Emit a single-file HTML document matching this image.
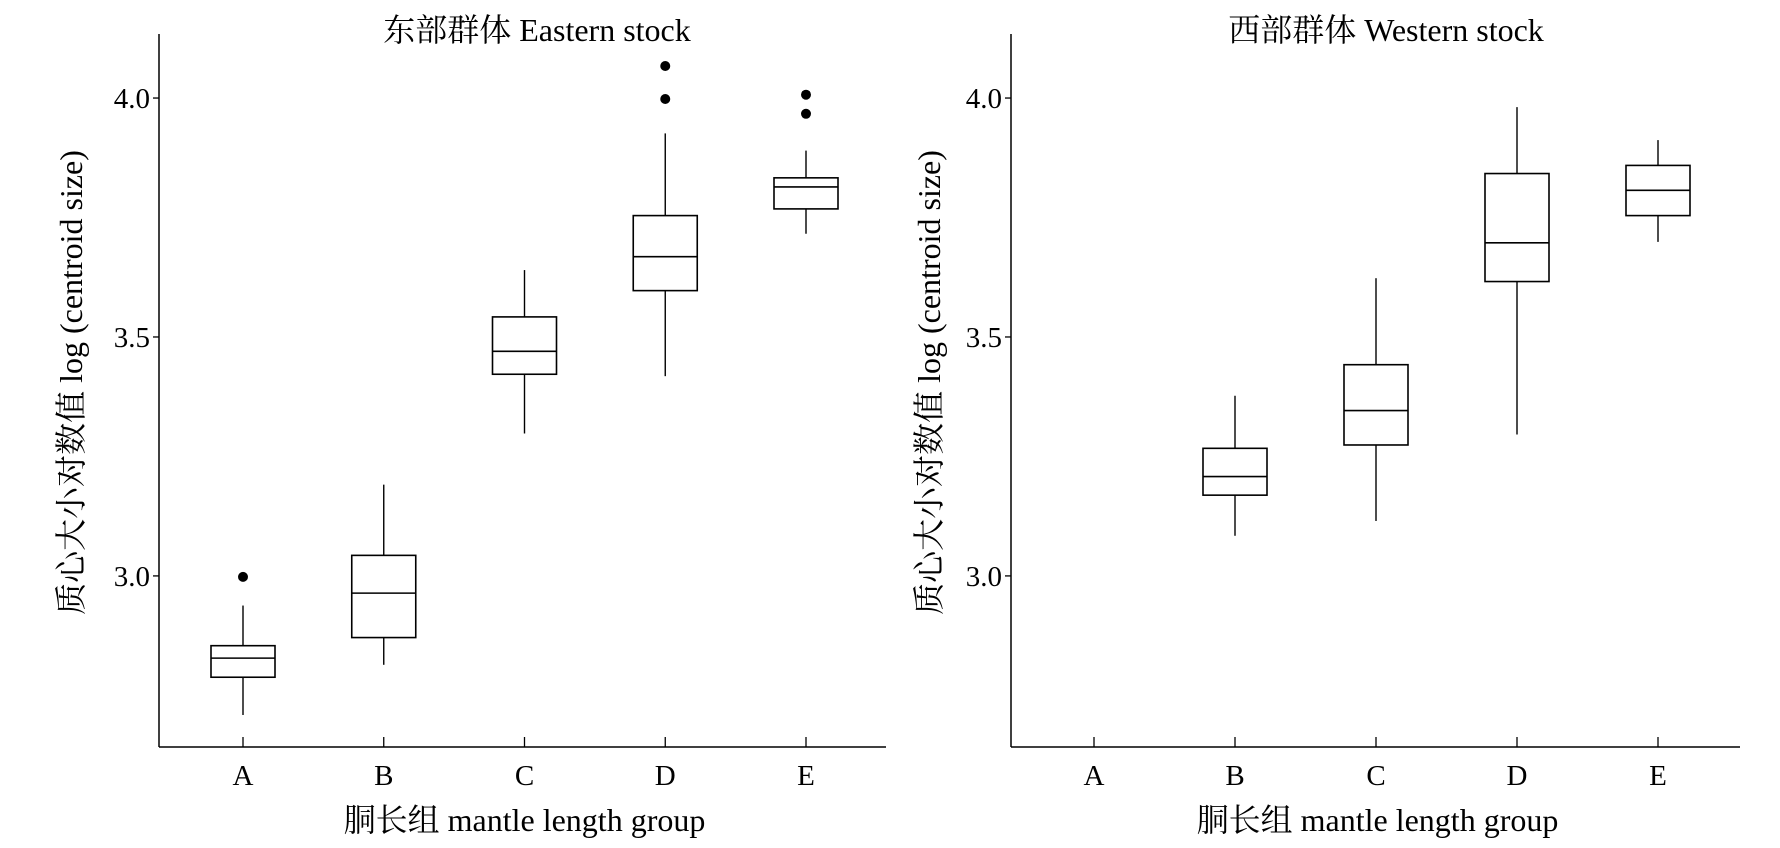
<!DOCTYPE html>
<html><head><meta charset="utf-8"><style>
body{margin:0;background:#fff}
text{font-family:"Liberation Serif","Noto Serif CJK SC","Noto Sans CJK SC",serif;fill:#000}
</style></head><body>
<svg id="c" width="1780" height="843" xmlns="http://www.w3.org/2000/svg"></svg>
<script>
const categories=["A","B","C","D","E"];
const yTicks=[3.0,3.5,4.0];
const yTickLabels=["3.0","3.5","4.0"];
// [low, q1, median, q3, high] per category; null = no data
const eastStats=[[2.709,2.788,2.828,2.854,2.938],[2.814,2.871,2.964,3.043,3.191],[3.298,3.422,3.470,3.542,3.640],[3.418,3.597,3.668,3.754,3.926],[3.716,3.768,3.814,3.833,3.890]];
const eastOutliers=[[2.998],[],[],[3.998,4.067],[4.007,3.967]];
const westStats=[null,[3.084,3.169,3.208,3.267,3.377],[3.115,3.274,3.346,3.442,3.623],[3.296,3.616,3.697,3.842,3.981],[3.699,3.754,3.807,3.859,3.912]];
const westOutliers=[[],[],[],[],[]];
const svg=document.getElementById('c');
const NS='http://www.w3.org/2000/svg';
function mk(t,a,p){const e=document.createElementNS(NS,t);for(const k in a)e.setAttribute(k,a[k]);(p||svg).appendChild(e);return e;}
const yMin=2.642,yMax=4.134,yTop=34,yBot=747;
function yS(v){return yBot-(v-yMin)/(yMax-yMin)*(yBot-yTop);}
function panel(name,x0,x1,cx0,step,title,titleX,ylabX,stats,outs){
  const g=mk('g',{});
  
  
  const xS=i=>cx0+i*step;
  let a=mk('line',{x1:x0,y1:yTop,x2:x0,y2:yBot,stroke:'#000','stroke-width':1.5},g);
  
  a=mk('line',{x1:x0,y1:yBot,x2:x1,y2:yBot,stroke:'#000','stroke-width':1.5},g);
  
  yTicks.forEach((v,i)=>{
    mk('line',{x1:x0-6,y1:yS(v),x2:x0,y2:yS(v),stroke:'#000','stroke-width':1.3},g);
    const t=mk('text',{x:x0-9,y:yS(v)+10,'text-anchor':'end','font-size':29},g);
    t.textContent=yTickLabels[i];
    
  });
  categories.forEach((c,i)=>{
    mk('line',{x1:xS(i),y1:yBot,x2:xS(i),y2:yBot-10,stroke:'#000','stroke-width':1.3},g);
    const t=mk('text',{x:xS(i),y:785,'text-anchor':'middle','font-size':29},g);
    t.textContent=c;
    
    const s=stats[i];
    if(s){
      const bg=mk('g',{},g);
      
      
      const x=xS(i),w=32;
      mk('line',{x1:x,y1:yS(s[0]),x2:x,y2:yS(s[1]),stroke:'#000','stroke-width':1.4},bg);
      mk('line',{x1:x,y1:yS(s[3]),x2:x,y2:yS(s[4]),stroke:'#000','stroke-width':1.4},bg);
      mk('rect',{x:x-w,y:yS(s[3]),width:2*w,height:yS(s[1])-yS(s[3]),fill:'#fff',stroke:'#000','stroke-width':1.6},bg);
      mk('line',{x1:x-w,y1:yS(s[2]),x2:x+w,y2:yS(s[2]),stroke:'#000','stroke-width':1.6},bg);
    }
    outs[i].forEach(v=>{
      const d=mk('circle',{cx:xS(i),cy:yS(v),r:5,fill:'#000'},g);
      
    });
  });
  let t=mk('text',{x:titleX,y:41,'text-anchor':'middle','font-size':32},g);
  t.textContent=title;
  t=mk('text',{x:(x0+x1)/2+2,y:831,'text-anchor':'middle','font-size':32},g);
  t.textContent='胴长组 mantle length group';
  t=mk('text',{x:0,y:0,'text-anchor':'middle','font-size':32,transform:`translate(${ylabX},${(yTop+yBot)/2-8}) rotate(-90)`},g);
  t.textContent='质心大小对数值 log (centroid size)';
}
panel('eastern-panel',159,886,243,140.75,'东部群体 Eastern stock',537,82,eastStats,eastOutliers);
panel('western-panel',1011,1740,1094,141,'西部群体 Western stock',1386,940,westStats,westOutliers);
</script>
</body></html>
